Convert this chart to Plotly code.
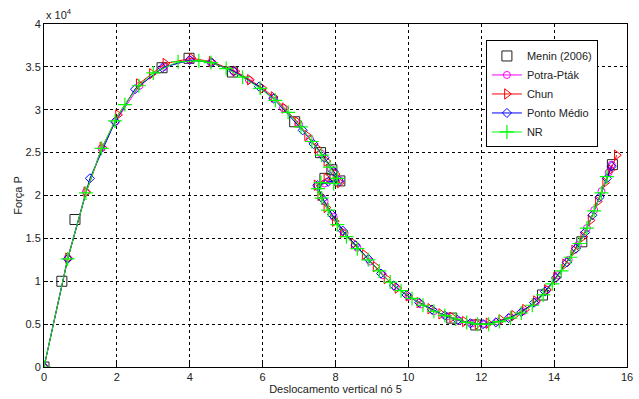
import plotly.graph_objects as go

# y values in units of 10^4
menin_x = [0.0, 0.49, 0.85, 3.24, 3.98, 5.17, 6.88, 7.59, 7.90, 8.12, 7.71, 11.19, 11.85, 13.68, 14.76, 15.60]
menin_y = [0.0, 1.00, 1.72, 3.49, 3.60, 3.44, 2.86, 2.50, 2.30, 2.17, 2.20, 0.57, 0.49, 0.84, 1.46, 2.36]

potra_x = [0.0, 0.65, 1.15, 1.58, 1.96, 2.62, 3.30, 4.00, 4.58, 5.20, 5.62, 6.28, 6.56, 7.00, 7.30, 7.60, 7.88, 8.10,
           7.70, 7.50, 7.70, 7.95, 8.25, 8.60, 8.95, 9.30, 9.65, 10.00, 10.35, 10.70, 11.05, 11.40, 11.75, 12.10,
           12.45, 12.80, 13.15, 13.50, 13.80, 14.10, 14.40, 14.65, 14.90, 15.10, 15.30, 15.50, 15.58]
potra_y = [0.0, 1.27, 2.04, 2.55, 2.86, 3.28, 3.50, 3.58, 3.55, 3.45, 3.35, 3.14, 3.02, 2.83, 2.66, 2.49, 2.31, 2.18,
           2.14, 2.10, 1.93, 1.75, 1.56, 1.39, 1.23, 1.07, 0.93, 0.82, 0.73, 0.65, 0.59, 0.54, 0.51, 0.50,
           0.53, 0.58, 0.65, 0.76, 0.90, 1.07, 1.25, 1.42, 1.62, 1.83, 2.05, 2.27, 2.36]

chun_x = [0.0, 0.66, 1.16, 1.60, 2.03, 2.60, 2.96, 3.33, 4.05, 4.60, 5.25, 5.65, 6.00, 6.30, 6.60, 6.95, 7.22, 7.50,
          7.75, 8.00, 8.12, 7.75, 7.48, 7.58, 7.75, 7.98, 8.20, 8.50, 8.80, 9.10, 9.40, 9.70, 10.00, 10.30, 10.60,
          10.90, 11.20, 11.55, 11.90, 12.20, 12.55, 12.90, 13.20, 13.50, 13.80, 14.05, 14.30, 14.55, 14.80, 15.00,
          15.20, 15.40, 15.55, 15.72]
chun_y = [0.0, 1.27, 2.04, 2.56, 2.94, 3.30, 3.42, 3.54, 3.60, 3.56, 3.45, 3.35, 3.25, 3.15, 3.02, 2.86, 2.70, 2.55,
          2.40, 2.25, 2.15, 2.20, 2.12, 2.00, 1.86, 1.70, 1.57, 1.44, 1.31, 1.17, 1.03, 0.92, 0.83, 0.75, 0.68,
          0.62, 0.58, 0.53, 0.50, 0.51, 0.55, 0.60, 0.67, 0.77, 0.90, 1.04, 1.20, 1.36, 1.52, 1.71,
          1.93, 2.15, 2.30, 2.47]

ponto_x = [0.0, 0.65, 1.26, 1.95, 2.50, 3.25, 4.00, 4.60, 5.20, 5.90, 6.30, 7.10, 7.40, 7.70, 7.95, 8.10, 7.80, 7.50,
           7.65, 7.90, 8.20, 8.55, 8.90, 9.25, 9.60, 9.95, 10.30, 10.65, 11.00, 11.35, 11.70, 12.05, 12.40, 12.75,
           13.10, 13.45, 13.75, 14.05, 14.35, 14.60, 14.85, 15.05, 15.25, 15.45, 15.58]
ponto_y = [0.0, 1.26, 2.20, 2.86, 3.24, 3.49, 3.58, 3.55, 3.45, 3.27, 3.13, 2.76, 2.60, 2.44, 2.28, 2.17, 2.16, 2.12,
           1.96, 1.78, 1.59, 1.42, 1.26, 1.09, 0.95, 0.84, 0.75, 0.67, 0.60, 0.55, 0.51, 0.50, 0.52, 0.57,
           0.64, 0.75, 0.88, 1.04, 1.22, 1.38, 1.57, 1.77, 1.98, 2.20, 2.34]

nr_x = [0.0, 0.65, 1.15, 1.58, 1.95, 2.22, 2.60, 3.00, 3.68, 4.25, 4.58, 5.00, 5.45, 5.93, 6.35, 6.70, 7.05, 7.35,
        7.62, 7.85, 8.05, 7.95, 7.60, 7.52, 7.62, 7.80, 8.05, 8.30, 8.60, 8.90, 9.20, 9.50, 9.80, 10.10, 10.40,
        10.70, 11.00, 11.30, 11.60, 11.90, 12.20, 12.50, 12.80, 13.10, 13.40, 13.70, 13.95, 14.20, 14.45, 14.70,
        14.90, 15.10, 15.30, 15.45]
nr_y = [0.0, 1.26, 2.03, 2.55, 2.87, 3.06, 3.28, 3.43, 3.56, 3.57, 3.55, 3.48, 3.38, 3.25, 3.11, 2.97, 2.80, 2.63,
        2.47, 2.33, 2.20, 2.14, 2.15, 2.08, 1.97, 1.83, 1.66, 1.52, 1.38, 1.25, 1.12, 0.99, 0.89, 0.80, 0.72,
        0.65, 0.60, 0.56, 0.52, 0.50, 0.50, 0.53, 0.57, 0.63, 0.72, 0.84, 0.97, 1.12, 1.28, 1.44,
        1.62, 1.82, 2.03, 2.22]

x_ticks = [0, 2, 4, 6, 8, 10, 12, 14, 16]
y_ticks = [0, 0.5, 1, 1.5, 2, 2.5, 3, 3.5, 4]
y_tick_labels = ["0", "0.5", "1", "1.5", "2", "2.5", "3", "3.5", "4"]

FONT = "Liberation Sans, Arial, sans-serif"

fig = go.Figure()
fig.add_trace(go.Scatter(x=menin_x, y=menin_y, mode="markers", name="Menin (2006)",
                         marker=dict(symbol="square-open", size=10, color="#222222", line=dict(width=1))))
fig.add_trace(go.Scatter(x=potra_x, y=potra_y, mode="lines+markers", name="Potra-Pták",
                         line=dict(color="#FF00FF", width=1),
                         marker=dict(symbol="circle-open", size=7, color="#FF00FF", line=dict(width=1))))
fig.add_trace(go.Scatter(x=chun_x, y=chun_y, mode="lines+markers", name="Chun",
                         line=dict(color="#FF0000", width=1),
                         marker=dict(symbol="triangle-right-open", size=9, color="#FF0000", line=dict(width=1))))
fig.add_trace(go.Scatter(x=ponto_x, y=ponto_y, mode="lines+markers", name="Ponto Médio",
                         line=dict(color="#0000FF", width=1),
                         marker=dict(symbol="diamond-open", size=7, color="#0000FF", line=dict(width=1))))
fig.add_trace(go.Scatter(x=nr_x, y=nr_y, mode="lines+markers", name="NR",
                         line=dict(color="#00FF00", width=1),
                         marker=dict(symbol="cross-thin-open", size=10, color="#00FF00", line=dict(width=1.2))))

axis_common = dict(showline=True, linecolor="black", linewidth=1, mirror=True,
                   ticks="inside", ticklen=4, tickcolor="black",
                   showgrid=True, gridcolor="black", gridwidth=1, griddash="3px,3px",
                   zeroline=False, automargin=False,
                   tickfont=dict(family=FONT, size=11, color="#222222"))

fig.update_layout(
    width=639, height=399,
    margin=dict(l=44, r=12, t=24, b=32),
    paper_bgcolor="white", plot_bgcolor="white",
    font=dict(family=FONT, size=11, color="#222222"),
    showlegend=True,
    legend=dict(x=0.758, y=0.952, xanchor="left", yanchor="top",
                bgcolor="white", bordercolor="black", borderwidth=1,
                font=dict(family=FONT, size=11, color="#222222"),
                itemwidth=30, tracegroupgap=0),
    xaxis=dict(range=[0, 16], tickvals=x_ticks,
               title=dict(text="Deslocamento vertical nó 5", font=dict(family=FONT, size=11), standoff=2),
               **axis_common),
    yaxis=dict(range=[0, 4], tickvals=y_ticks, ticktext=y_tick_labels,
               title=dict(text="Força P", font=dict(family=FONT, size=11), standoff=0),
               **axis_common),
    annotations=[dict(text="x 10<sup>4</sup>", xref="paper", yref="paper", x=0.0, y=1.0,
                      xanchor="left", yanchor="bottom", showarrow=False, yshift=1,
                      font=dict(family=FONT, size=11, color="#222222"))],
)

fig.write_html("out.html", config={"displayModeBar": False},
               post_script="document.body.style.margin='0px';document.body.style.padding='0px';")
